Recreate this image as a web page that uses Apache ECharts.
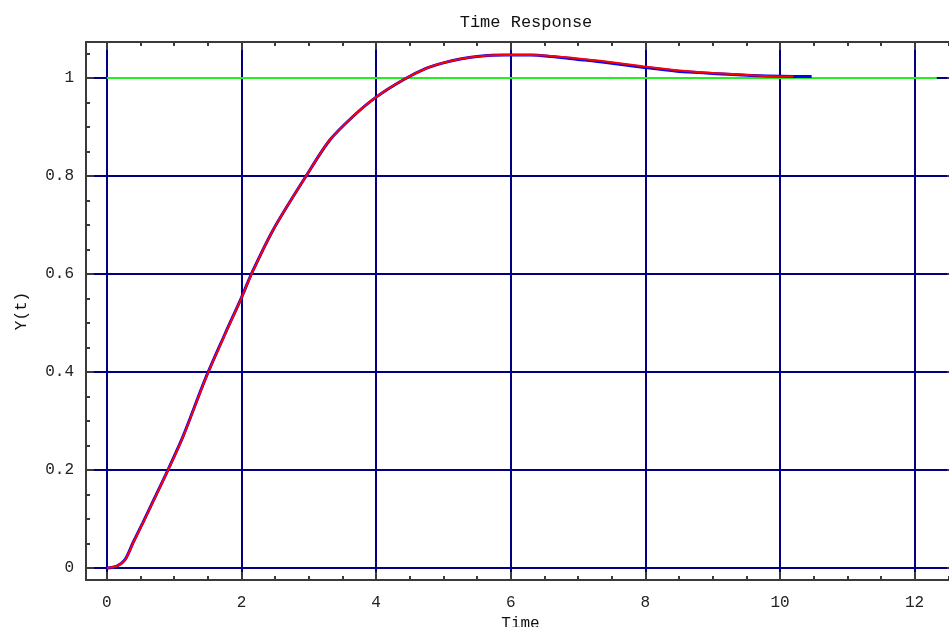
<!DOCTYPE html>
<html>
<head>
<meta charset="utf-8">
<script src="https://cdn.jsdelivr.net/npm/echarts@6/dist/echarts.min.js"></script>
<style>
  html, body { margin: 0; padding: 0; background: #fff; }
  #chart { width: 949px; height: 627px; }
</style>
</head>
<body>
<div id="chart"></div>
<script>
// Time response (red = first curve, blue = second, nearly on top of it)
const redTime = [0, 0.15, 0.27, 0.39, 0.53, 0.71, 0.91, 1.13, 1.46, 1.75, 2.0, 2.15, 2.47, 2.96, 3.31, 3.66, 4.0, 4.4, 4.75, 5.0, 5.25, 5.5, 5.9, 6.3, 6.6, 7.0, 7.33, 7.96, 8.47, 8.81, 9.3, 9.8, 10.2]
const redY = [0, 0.004, 0.016, 0.051, 0.09, 0.142, 0.2, 0.267, 0.384, 0.475, 0.551, 0.6, 0.69, 0.8, 0.873, 0.922, 0.961, 0.996, 1.02, 1.031, 1.039, 1.044, 1.047, 1.047, 1.045, 1.04, 1.035, 1.024, 1.016, 1.012, 1.008, 1.004, 1.003]
const blueTime = [0, 0.15, 0.27, 0.39, 0.53, 0.71, 0.91, 1.13, 1.46, 1.75, 2.0, 2.15, 2.47, 2.96, 3.31, 3.66, 4.0, 4.4, 4.75, 5.0, 5.25, 5.5, 5.9, 6.3, 6.6, 7.0, 7.33, 7.96, 8.47, 8.81, 9.3, 9.8, 10.2, 10.47]
const blueY = [0, 0.004, 0.017, 0.052, 0.091, 0.143, 0.201, 0.268, 0.385, 0.476, 0.552, 0.601, 0.69, 0.8, 0.873, 0.922, 0.961, 0.996, 1.02, 1.031, 1.039, 1.044, 1.047, 1.047, 1.044, 1.038, 1.033, 1.022, 1.014, 1.011, 1.007, 1.004, 1.003, 1.003]
// reference level
const refTime = [0, 12.33]
const refY = [1, 1]

const xRange = [-0.31, 12.6]
const yRange = [-0.0245, 1.0735]
const xStep = 2
const yStep = 0.2

const font = 'Liberation Mono'
const frame = '#3a3a3a'
const navy = '#000080'

const pairs = (xs, ys) => xs.map((x, i) => [x, ys[i]])

function frameAxis(extra) {
  return Object.assign({
    type: 'value',
    z: 5,
    axisLine: { show: true, onZero: false, lineStyle: { color: frame, width: 2 } },
    axisTick: { show: true, inside: true, length: 8, lineStyle: { color: frame, width: 2 } },
    minorTick: { show: true, splitNumber: 4, length: 4, lineStyle: { color: frame, width: 2 } },
    axisLabel: { show: false },
    splitLine: { show: false },
  }, extra)
}

const chart = echarts.init(document.getElementById('chart'), null, { renderer: 'canvas' })
chart.setOption({
  animation: false,
  backgroundColor: '#fff',
  title: {
    text: 'Time Response',
    left: 521,
    top: 9,
    textAlign: 'center',
    textStyle: { fontFamily: font, fontSize: 17, fontWeight: 'normal', color: '#111' },
  },
  grid: { left: 86, right: -6, top: 42, bottom: 47, containLabel: false, outerBoundsMode: 'none' },
  xAxis: [
    frameAxis({
      position: 'bottom',
      min: xRange[0], max: xRange[1], splitNumber: 6, minInterval: xStep, maxInterval: xStep,
      name: 'Time', nameLocation: 'middle', nameGap: 30,
      nameTextStyle: { fontFamily: font, fontSize: 16, color: '#111' },
      axisLabel: { show: true, margin: 15, showMinLabel: false, showMaxLabel: false,
        fontFamily: font, fontSize: 16, color: '#222' },
    }),
    frameAxis({
      position: 'top',
      min: xRange[0], max: xRange[1], splitNumber: 6, minInterval: xStep, maxInterval: xStep,
    }),
    {
      type: 'value', z: 0,
      min: xRange[0], max: xRange[1], splitNumber: 6, minInterval: xStep, maxInterval: xStep,
      axisLine: { show: false }, axisTick: { show: false }, axisLabel: { show: false },
      splitLine: { show: true, lineStyle: { color: navy, width: 2 } },
    },
  ],
  yAxis: [
    frameAxis({
      position: 'left',
      min: yRange[0], max: yRange[1], splitNumber: 6, minInterval: yStep, maxInterval: yStep,
      name: 'Y(t)', nameLocation: 'middle', nameGap: 56, nameRotate: 90,
      nameTextStyle: { fontFamily: font, fontSize: 16, color: '#111' },
      axisLabel: { show: true, margin: 12, showMinLabel: false, showMaxLabel: false,
        fontFamily: font, fontSize: 16, color: '#222' },
    }),
    frameAxis({
      position: 'right',
      min: yRange[0], max: yRange[1], splitNumber: 6, minInterval: yStep, maxInterval: yStep,
    }),
    {
      type: 'value', z: 0,
      min: yRange[0], max: yRange[1], splitNumber: 6, minInterval: yStep, maxInterval: yStep,
      axisLine: { show: false }, axisTick: { show: false }, axisLabel: { show: false },
      splitLine: { show: true, lineStyle: { color: navy, width: 2 } },
    },
  ],
  series: [
    {
      type: 'line', name: 'reference', xAxisIndex: 0, yAxisIndex: 0,
      data: pairs(refTime, refY), showSymbol: false,
      lineStyle: { color: '#22ee22', width: 2 }, z: 2,
    },
    {
      type: 'line', name: 'blue', xAxisIndex: 0, yAxisIndex: 0,
      data: pairs(blueTime, blueY), showSymbol: false, smooth: 0.3,
      lineStyle: { color: '#0000ff', width: 3 }, z: 3,
    },
    {
      type: 'line', name: 'red', xAxisIndex: 0, yAxisIndex: 0,
      data: pairs(redTime, redY), showSymbol: false, smooth: 0.3,
      lineStyle: { color: '#ff0000', width: 2 }, z: 4,
    },
  ],
})
</script>
</body>
</html>
